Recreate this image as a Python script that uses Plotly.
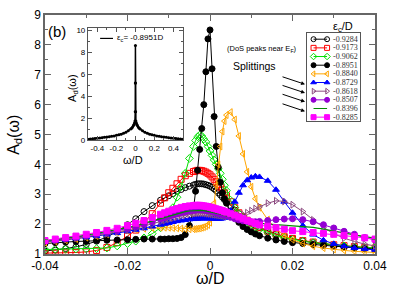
import plotly.graph_objects as go

# ---------------- data ----------------
OMEGA = [-0.04, -0.0375, -0.035, -0.0325, -0.03, -0.0275, -0.025, -0.0225, -0.02, -0.018,
         -0.016, -0.014, -0.012, -0.011, -0.01, -0.009, -0.008, -0.007, -0.006, -0.005,
         -0.004, -0.0035, -0.003, -0.0025, -0.002, -0.0015, -0.001, -0.0005, 0.0,
         0.0005, 0.001, 0.0015, 0.002, 0.0025, 0.003, 0.0035, 0.004,
         0.005, 0.006, 0.007, 0.008, 0.009, 0.01, 0.011, 0.012,
         0.014, 0.016, 0.018, 0.02, 0.0225, 0.025, 0.0275, 0.03, 0.0325, 0.035, 0.0375, 0.04]

EC_LABELS = ["-0.9284", "-0.9173", "-0.9062", "-0.8951", "-0.8840",
             "-0.8729", "-0.8618", "-0.8507", "-0.8396", "-0.8285"]

A_9284 = [1.10, 1.13, 1.18, 1.24, 1.32, 1.43, 1.57, 1.75, 1.98, 2.18,
          2.42, 2.62, 2.80, 2.88, 2.95, 3.02, 3.10, 3.16, 3.22, 3.27,
          3.31, 3.33, 3.35, 3.35, 3.35, 3.34, 3.32, 3.30, 3.27,
          3.23, 3.18, 3.12, 3.05, 2.98, 2.90, 2.82, 2.75,
          2.60, 2.47, 2.35, 2.23, 2.13, 2.04, 1.96, 1.89,
          1.77, 1.67, 1.58, 1.51, 1.44, 1.38, 1.33, 1.29, 1.25, 1.22, 1.19, 1.17]
A_9173 = [1.03, 1.03, 1.04, 1.05, 1.07, 1.12, 1.22, 1.38, 1.60, 1.80,
          2.05, 2.35, 2.70, 2.88, 3.05, 3.20, 3.35, 3.50, 3.62, 3.70,
          3.76, 3.78, 3.80, 3.80, 3.79, 3.77, 3.74, 3.70, 3.65,
          3.58, 3.50, 3.42, 3.33, 3.24, 3.15, 3.05, 2.95,
          2.75, 2.55, 2.38, 2.25, 2.13, 2.03, 1.95, 1.88,
          1.76, 1.66, 1.58, 1.52, 1.45, 1.40, 1.35, 1.31, 1.28, 1.25, 1.22, 1.20]
A_9062 = [1.15, 1.16, 1.16, 1.17, 1.17, 1.18, 1.20, 1.27, 1.35, 1.43,
          1.54, 1.68, 1.88, 2.05, 2.25, 2.55, 2.90, 3.25, 3.70, 4.20,
          4.60, 4.80, 4.92, 4.98, 4.95, 4.85, 4.75, 4.60, 4.45,
          4.30, 4.15, 4.00, 3.85, 3.70, 3.50, 3.30, 3.12,
          2.80, 2.55, 2.35, 2.20, 2.08, 1.98, 1.90, 1.83,
          1.72, 1.62, 1.55, 1.49, 1.43, 1.38, 1.34, 1.30, 1.27, 1.24, 1.22, 1.20]
A_8951 = [1.35, 1.38, 1.40, 1.42, 1.43, 1.45, 1.46, 1.47, 1.48, 1.49,
          1.50, 1.50, 1.50, 1.50, 1.51, 1.51, 1.52, 1.55, 1.65, 1.95,
          2.50, 3.10, 3.80, 4.50, 5.20, 6.00, 7.10, 8.20, 8.50,
          7.20, 5.60, 4.60, 3.90, 3.40, 3.05, 2.85, 2.70,
          2.42, 2.22, 2.06, 1.92, 1.82, 1.74, 1.67, 1.61,
          1.53, 1.47, 1.42, 1.38, 1.35, 1.32, 1.29, 1.26, 1.23, 1.20, 1.17, 1.15]
A_8840 = [1.38, 1.42, 1.46, 1.50, 1.55, 1.60, 1.66, 1.72, 1.78, 1.82,
          1.85, 1.87, 1.88, 1.88, 1.88, 1.87, 1.86, 1.85, 1.84, 1.83,
          1.83, 1.84, 1.85, 1.86, 1.88, 1.90, 1.93, 1.97, 2.05,
          2.30, 2.70, 3.30, 4.00, 4.60, 5.10, 5.45, 5.65,
          5.75, 5.50, 4.95, 4.35, 3.75, 3.25, 2.85, 2.55,
          2.15, 1.85, 1.62, 1.48, 1.35, 1.26, 1.20, 1.15, 1.12, 1.09, 1.07, 1.05]
A_8729 = [1.41, 1.44, 1.48, 1.52, 1.56, 1.60, 1.65, 1.70, 1.76, 1.81,
          1.86, 1.92, 1.98, 2.01, 2.04, 2.07, 2.10, 2.12, 2.14, 2.16,
          2.17, 2.18, 2.18, 2.19, 2.19, 2.19, 2.19, 2.19, 2.19,
          2.19, 2.18, 2.18, 2.18, 2.18, 2.19, 2.21, 2.25,
          2.45, 2.75, 3.05, 3.30, 3.47, 3.56, 3.60, 3.58,
          3.45, 3.15, 2.75, 2.38, 1.95, 1.65, 1.46, 1.34, 1.26, 1.20, 1.17, 1.14]
A_8618 = [1.42, 1.45, 1.49, 1.53, 1.58, 1.63, 1.68, 1.74, 1.80, 1.86,
          1.93, 2.00, 2.08, 2.12, 2.16, 2.20, 2.24, 2.27, 2.30, 2.33,
          2.35, 2.36, 2.37, 2.37, 2.37, 2.37, 2.36, 2.35, 2.34,
          2.33, 2.32, 2.31, 2.30, 2.29, 2.28, 2.27, 2.26,
          2.25, 2.26, 2.28, 2.32, 2.38, 2.45, 2.52, 2.58,
          2.70, 2.78, 2.76, 2.65, 2.42, 2.14, 1.88, 1.68, 1.53, 1.42, 1.33, 1.27]
A_8507 = [1.43, 1.47, 1.51, 1.56, 1.61, 1.66, 1.72, 1.78, 1.85, 1.92,
          2.00, 2.08, 2.17, 2.21, 2.26, 2.30, 2.34, 2.38, 2.41, 2.44,
          2.46, 2.47, 2.48, 2.48, 2.48, 2.47, 2.46, 2.45, 2.44,
          2.42, 2.40, 2.38, 2.36, 2.34, 2.32, 2.30, 2.28,
          2.23, 2.18, 2.14, 2.11, 2.09, 2.08, 2.08, 2.09,
          2.12, 2.15, 2.17, 2.18, 2.15, 2.08, 1.98, 1.87, 1.76, 1.66, 1.55, 1.47]
A_8396 = [1.44, 1.48, 1.53, 1.58, 1.63, 1.69, 1.75, 1.81, 1.88, 1.95,
          2.03, 2.11, 2.20, 2.24, 2.28, 2.32, 2.36, 2.39, 2.42, 2.44,
          2.45, 2.46, 2.46, 2.46, 2.46, 2.45, 2.44, 2.43, 2.42,
          2.41, 2.39, 2.37, 2.35, 2.33, 2.31, 2.29, 2.27,
          2.23, 2.19, 2.15, 2.12, 2.09, 2.07, 2.05, 2.03,
          2.00, 1.98, 1.96, 1.94, 1.92, 1.89, 1.83, 1.76, 1.70, 1.64, 1.58, 1.53]
A_8285 = [1.45, 1.50, 1.55, 1.60, 1.66, 1.72, 1.79, 1.86, 1.95, 2.03,
          2.12, 2.22, 2.33, 2.38, 2.43, 2.48, 2.52, 2.56, 2.59, 2.61,
          2.62, 2.63, 2.63, 2.63, 2.62, 2.61, 2.60, 2.59, 2.57,
          2.55, 2.53, 2.51, 2.49, 2.47, 2.45, 2.42, 2.40,
          2.35, 2.30, 2.24, 2.18, 2.12, 2.07, 2.02, 1.97,
          1.93, 1.88, 1.83, 1.78, 1.75, 1.72, 1.69, 1.66, 1.62, 1.58, 1.54, 1.50]

SERIES = [A_9284, A_9173, A_9062, A_8951, A_8840, A_8729, A_8618, A_8507, A_8396, A_8285]

INSET_OMEGA = [-0.5, -0.475, -0.45, -0.425, -0.4, -0.375, -0.35, -0.325, -0.3, -0.275,
               -0.25, -0.225, -0.2, -0.175, -0.15, -0.125, -0.1, -0.075, -0.05, -0.04,
               -0.03, -0.02, -0.015, -0.01, -0.005, -0.002, -0.001, 0.0,
               0.001, 0.002, 0.005, 0.01, 0.015, 0.02, 0.03, 0.04, 0.05, 0.075,
               0.1, 0.125, 0.15, 0.175, 0.2, 0.225, 0.25, 0.275, 0.3, 0.325,
               0.35, 0.375, 0.4, 0.425, 0.45, 0.475, 0.5]
INSET_A = [0.10, 0.12, 0.14, 0.16, 0.18, 0.21, 0.24, 0.27, 0.30, 0.33,
           0.36, 0.40, 0.45, 0.50, 0.56, 0.64, 0.74, 0.86, 1.02, 1.10,
           1.20, 1.34, 1.43, 1.56, 1.75, 2.60, 5.20, 8.60,
           5.20, 2.60, 1.75, 1.56, 1.43, 1.34, 1.20, 1.10, 1.02, 0.86,
           0.74, 0.64, 0.56, 0.50, 0.45, 0.40, 0.36, 0.33, 0.30, 0.27,
           0.24, 0.21, 0.18, 0.16, 0.14, 0.12, 0.10]

X_TICKS = [-0.04, -0.02, 0.0, 0.02, 0.04]
X_TICKTEXT = ["-0.04", "-0.02", "0", "0.02", "0.04"]
X_MINOR = [-0.03, -0.01, 0.01, 0.03]
IX_TICKS = [-0.4, -0.2, 0.0, 0.2, 0.4]
IX_TICKTEXT = ["-0.4", "-0.2", "0", "0.2", "0.4"]
IX_MINOR = [-0.5, -0.3, -0.1, 0.1, 0.3, 0.5]

# ---------------- styles ----------------
COLORS = ["#000000", "#ff0000", "#00e000", "#000000", "#ffa500",
          "#0000ff", "#8c4a80", "#9400d3", "#008b00", "#ff00ff"]
SYMBOLS = ["circle-open", "square-open", "diamond-open", "circle", "triangle-left-open",
           "triangle-up", "triangle-right-open", "circle", None, "square"]

SANS = "Liberation Sans, Arial, sans-serif"
SERIF = "Liberation Serif, Times New Roman, serif"
AXC = "#666666"

fig = go.Figure()

for vals, col, sym in zip(SERIES, COLORS, SYMBOLS):
    if sym is None:
        fig.add_trace(go.Scatter(x=OMEGA, y=vals, mode="lines",
                                 line=dict(color=col, width=1.2),
                                 showlegend=False, hoverinfo="skip"))
    else:
        fig.add_trace(go.Scatter(x=OMEGA, y=vals, mode="lines+markers",
                                 line=dict(color=col, width=1),
                                 marker=dict(symbol=sym, size=6, color=col,
                                             line=dict(color=col, width=1)),
                                 showlegend=False, hoverinfo="skip"))

# inset
fig.add_trace(go.Scatter(x=INSET_OMEGA, y=INSET_A, mode="lines+markers",
                         line=dict(color="black", width=1.5),
                         marker=dict(symbol="circle", size=3, color="black"),
                         xaxis="x2", yaxis="y2", showlegend=False, hoverinfo="skip"))

# custom legend in its own small axes
LEG_XM0, LEG_XM1, LEG_XT = 6.5, 20.0, 24.0
for i, (col, sym) in enumerate(zip(COLORS, SYMBOLS)):
    if sym is None:
        fig.add_trace(go.Scatter(x=[LEG_XM0, LEG_XM1], y=[i, i], mode="lines",
                                 line=dict(color=col, width=1.2),
                                 xaxis="x3", yaxis="y3", showlegend=False, hoverinfo="skip"))
    else:
        fig.add_trace(go.Scatter(x=[LEG_XM0, LEG_XM1], y=[i, i], mode="lines+markers",
                                 line=dict(color=col, width=1),
                                 marker=dict(symbol=sym, size=5, color=col,
                                             line=dict(color=col, width=1)),
                                 xaxis="x3", yaxis="y3", showlegend=False, hoverinfo="skip"))

main_axis = dict(showline=True, linecolor=AXC, linewidth=1.5, mirror="ticks",
                 ticks="inside", tickcolor=AXC, tickwidth=1, ticklen=6,
                 showgrid=False, zeroline=False,
                 tickfont=dict(family=SANS, size=12, color="black"))

fig.update_layout(
    width=407, height=288,
    margin=dict(l=45, r=32, t=8, b=34),
    paper_bgcolor="white", plot_bgcolor="white",
    xaxis=dict(main_axis, domain=[0, 1], range=[-0.04, 0.04],
               tickmode="array", tickvals=X_TICKS, ticktext=X_TICKTEXT,
               minor=dict(tickmode="array", tickvals=X_MINOR, ticks="inside",
                          ticklen=3, tickcolor=AXC)),
    yaxis=dict(main_axis, domain=[0, 1], range=[1, 9], dtick=1,
               minor=dict(dtick=0.5, ticks="inside", ticklen=3, tickcolor=AXC)),
    xaxis2=dict(showline=True, linecolor="#555555", linewidth=1, mirror="ticks",
                ticks="inside", tickcolor="#555555", ticklen=4,
                showgrid=False, zeroline=False,
                domain=[0.130, 0.418], anchor="y2", range=[-0.5, 0.5],
                tickmode="array", tickvals=IX_TICKS, ticktext=IX_TICKTEXT,
                minor=dict(tickmode="array", tickvals=IX_MINOR, ticks="inside",
                           ticklen=2, tickcolor="#555555"),
                tickfont=dict(family=SANS, size=8, color="black")),
    yaxis2=dict(showline=True, linecolor="#555555", linewidth=1, mirror="ticks",
                ticks="inside", tickcolor="#555555", ticklen=4,
                showgrid=False, zeroline=False,
                domain=[0.4756, 0.944], anchor="x2", range=[0, 10.15], dtick=2,
                minor=dict(dtick=1, ticks="inside", ticklen=2, tickcolor="#555555"),
                tickfont=dict(family=SANS, size=8, color="black")),
    xaxis3=dict(domain=[0.794, 0.955], anchor="y3", range=[0, 53],
                showline=True, mirror=True, linecolor="#555555", linewidth=1,
                showticklabels=False, ticks="", showgrid=False, zeroline=False,
                fixedrange=True),
    yaxis3=dict(domain=[0.557, 0.923], anchor="x3", range=[9.43, -0.67],
                showline=True, mirror=True, linecolor="#555555", linewidth=1,
                showticklabels=False, ticks="", showgrid=False, zeroline=False,
                fixedrange=True),
    showlegend=False,
)


def pa(text, x, y, size, **kw):
    d = dict(text=text, x=x, y=y, xref="paper", yref="paper", showarrow=False,
             xanchor="center", yanchor="middle",
             font=dict(family=kw.pop("family", SANS), size=size, color="black"))
    d.update(kw)
    return d


ann = [
    pa("(b)", 0.036, 0.931, 15),
    pa("ω/D", 0.5, -0.102, 16),
    pa("A<sub>d</sub>(ω)", -0.093, 0.50, 16, textangle=-90),
    pa("A<sub>d</sub>(ω)", 0.085, 0.695, 11, textangle=-90),
    pa("ω/D", 0.267, 0.393, 11),
    pa("ε<sub>c</sub>= -0.8951D", 0.212, 0.902, 8, xanchor="left"),
    pa("ε<sub>c</sub>/D", 0.903, 0.951, 11),
    pa("(DoS peaks near E<sub>F</sub>)", 0.658, 0.858, 7.5),
    pa("Splittings", 0.636, 0.785, 10.5),
]
for i, lab in enumerate(EC_LABELS):
    ann.append(dict(text=lab, x=LEG_XT, y=i, xref="x3", yref="y3", showarrow=False,
                    xanchor="left", yanchor="middle",
                    font=dict(family=SERIF, size=8, color="#333333")))
for hy in [0.710, 0.674, 0.637, 0.597]:
    ann.append(dict(text="", x=0.788, y=hy, xref="paper", yref="paper",
                    ax=-24, ay=-8, showarrow=True, arrowhead=2, arrowsize=0.8,
                    arrowwidth=1, arrowcolor="black"))
fig.update_layout(annotations=ann)

fig.add_shape(type="line", xref="paper", yref="paper",
              x0=0.167, x1=0.206, y0=0.902, y1=0.902,
              line=dict(color="black", width=1.2))

fig.write_html("out.html", config={"displayModeBar": False},
               post_script="document.body.style.margin='0';document.body.style.overflow='hidden';")
